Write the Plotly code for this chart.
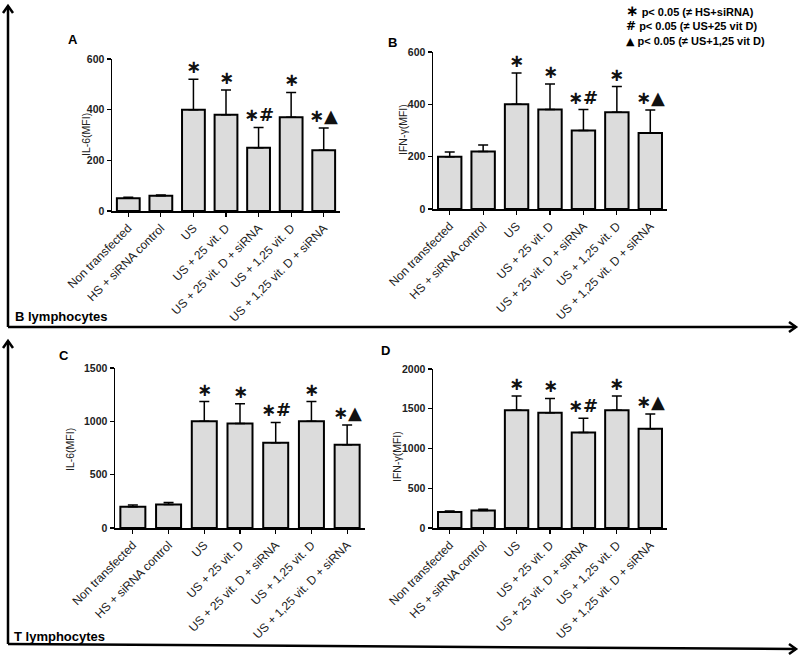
import plotly.graph_objects as go

W, H = 800, 655

categories = ["Non transfected", "HS + siRNA control", "US", "US + 25 vit. D",
              "US + 25 vit. D + siRNA", "US + 1,25 vit. D", "US + 1,25 vit. D + siRNA"]

# Panel A: B lymphocytes IL-6
a_mean = [50, 60, 400, 380, 250, 370, 240]
a_top = [54, 63, 520, 478, 330, 468, 328]
# Panel B: B lymphocytes IFN-gamma
b_mean = [200, 220, 400, 380, 300, 370, 290]
b_top = [218, 245, 520, 478, 380, 468, 378]
# Panel C: T lymphocytes IL-6
c_mean = [200, 220, 1000, 980, 800, 1000, 780]
c_top = [215, 240, 1185, 1165, 990, 1185, 965]
# Panel D: T lymphocytes IFN-gamma
d_mean = [200, 220, 1480, 1450, 1200, 1480, 1250]
d_top = [215, 235, 1660, 1630, 1380, 1660, 1435]

marks = ["", "", "∗", "∗", "∗#", "∗", "∗▲"]

a_ticks = [0, 200, 400, 600]
b_ticks = [0, 200, 400, 600]
c_ticks = [0, 500, 1000, 1500]
d_ticks = [0, 500, 1000, 1500, 2000]

legend_syms = ["∗", "#", "▲"]
legend_texts = ["p< 0.05 (≠ HS+siRNA)", "p< 0.05 (≠ US+25 vit D)", "p< 0.05 (≠ US+1,25 vit D)"]

FONT = "Arial, Liberation Sans, sans-serif"

def px(x):
    return x / W

def py(y):
    return 1 - y / H

panels = [
    dict(mean=a_mean, top=a_top, ticks=a_ticks, title="IL-6(MFI)", xd=(112, 340), yd=(211, 59),
         letter="A", lx=73, ly=40, tx=86, ty=135),
    dict(mean=b_mean, top=b_top, ticks=b_ticks, title="IFN-γ(MFI)", xd=(433, 667), yd=(209, 52),
         letter="B", lx=392, ly=43, tx=403, ty=130),
    dict(mean=c_mean, top=c_top, ticks=c_ticks, title="IL-6(MFI)", xd=(115, 365), yd=(528, 368),
         letter="C", lx=64, ly=355, tx=70, ty=450),
    dict(mean=d_mean, top=d_top, ticks=d_ticks, title="IFN-γ(MFI)", xd=(433, 667), yd=(528, 369),
         letter="D", lx=385, ly=350, tx=397, ty=457),
]

fig = go.Figure()
annotations = []
layout = dict(
    width=W, height=H, autosize=False, margin=dict(l=0, r=0, t=0, b=0, pad=0, autoexpand=False),
    paper_bgcolor="white", plot_bgcolor="white", showlegend=False,
    font=dict(family=FONT, color="black"),
)

for i, p in enumerate(panels, start=1):
    xa = "x" if i == 1 else f"x{i}"
    ya = "y" if i == 1 else f"y{i}"
    err = [t - m for t, m in zip(p["top"], p["mean"])]
    fig.add_trace(go.Bar(
        x=categories, y=p["mean"], xaxis=xa, yaxis=ya, width=0.7,
        marker=dict(color="#dcdcdc", line=dict(color="black", width=2)),
        error_y=dict(type="data", array=err, arrayminus=[0] * 7, symmetric=False,
                     color="black", thickness=1.5, width=5),
    ))
    xkey = "xaxis" if i == 1 else f"xaxis{i}"
    ykey = "yaxis" if i == 1 else f"yaxis{i}"
    layout[xkey] = dict(
        domain=[px(p["xd"][0]), px(p["xd"][1])], anchor=ya, automargin=False,
        range=[-0.5, 6.5], showline=True, linecolor="black", linewidth=1.5,
        ticks="outside", ticklen=4, tickcolor="black", tickwidth=1.2,
        tickangle=-45, tickfont=dict(size=12, color="#222"), showgrid=False, zeroline=False,
        fixedrange=True,
    )
    layout[ykey] = dict(
        domain=[py(p["yd"][0]), py(p["yd"][1])], anchor=xa, automargin=False,
        range=[0, p["ticks"][-1]], tickvals=p["ticks"],
        ticktext=[f"<b>{v}</b>" for v in p["ticks"]], showline=True, linecolor="black",
        linewidth=1.5, ticks="outside", ticklen=4, tickcolor="black", tickwidth=1.2,
        tickfont=dict(size=10.5, color="#222"),
        showgrid=False, zeroline=False, fixedrange=True,
    )
    for c, t, m in zip(categories, p["top"], marks):
        if m:
            annotations.append(dict(
                x=c, y=t, xref=xa, yref=ya, text=f"<b>{m}</b>", showarrow=False,
                yanchor="bottom", yshift=0, font=dict(size=18, color="#111",
                                                       family="DejaVu Sans, sans-serif"),
            ))
    annotations.append(dict(x=px(p["lx"]), y=py(p["ly"]), xref="paper", yref="paper",
                            text=f"<b>{p['letter']}</b>", showarrow=False,
                            font=dict(size=13), xanchor="center", yanchor="middle"))
    annotations.append(dict(x=px(p["tx"]), y=py(p["ty"]), xref="paper", yref="paper",
                            text=p["title"], showarrow=False, textangle=-90,
                            font=dict(size=10.5, color="#222"), xanchor="center", yanchor="middle"))

annotations.append(dict(x=px(13), y=py(316), xref="paper", yref="paper", text="<b>B lymphocytes</b>",
                        showarrow=False, xanchor="left", yanchor="middle", font=dict(size=13)))
annotations.append(dict(x=px(12), y=py(636), xref="paper", yref="paper", text="<b>T lymphocytes</b>",
                        showarrow=False, xanchor="left", yanchor="middle", font=dict(size=13)))

sym_style = ["font-family:DejaVu Sans;font-size:15px", "font-family:DejaVu Sans;font-size:12px",
             "font-family:DejaVu Sans;font-size:11px"]
legend_lines = [f"<span style='{st}'><b>{s}</b></span> <b>{t}</b>"
                for s, st, t in zip(legend_syms, sym_style, legend_texts)]
annotations.append(dict(x=px(625), y=py(25.5), xref="paper", yref="paper",
                        text="<br>".join(legend_lines),
                        showarrow=False, xanchor="left", yanchor="middle", align="left",
                        borderpad=0, font=dict(size=11)))

shapes = []
def line(x0, y0, x1, y1, w=2.5):
    shapes.append(dict(type="line", xref="paper", yref="paper", x0=px(x0), y0=py(y0),
                       x1=px(x1), y1=py(y1), line=dict(color="black", width=w)))

def path(pts, w=2.5):
    d = "M " + " L ".join(f"{px(x)},{py(y)}" for x, y in pts)
    shapes.append(dict(type="path", xref="paper", yref="paper", path=d,
                       line=dict(color="black", width=w)))

# top frame
line(8, 6, 8, 327)
line(8, 327, 796, 327)
path([(3, 13), (8, 6), (13, 13)])
path([(789, 322), (796, 327), (789, 332)])
# bottom frame
line(8, 341, 8, 644)
line(8, 644, 796, 649)
path([(3, 348), (8, 341), (13, 348)])
path([(789, 644), (796, 649), (789, 654)])

layout["annotations"] = annotations
layout["shapes"] = shapes
fig.update_layout(**layout)
fig.write_html("out.html", config={"displayModeBar": False, "staticPlot": True},
               post_script="document.body.style.margin='0';document.body.style.overflow='hidden';")
